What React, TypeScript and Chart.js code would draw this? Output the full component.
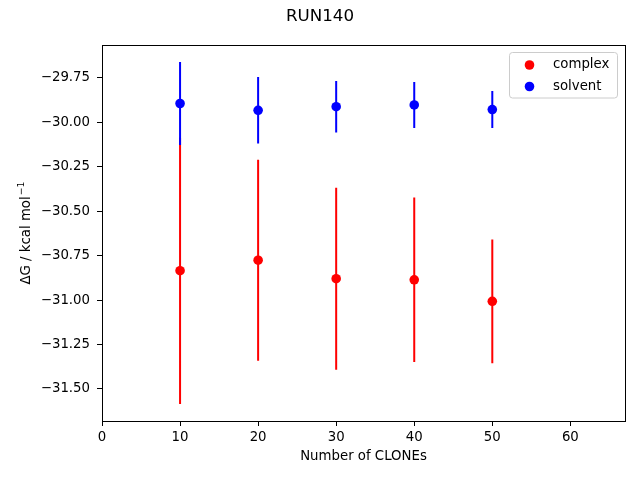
import React, { useEffect, useRef } from 'react';
import { Chart, registerables } from 'chart.js';

Chart.register(...registerables);

const chartTitle = 'RUN140';
const xLabel = 'Number of CLONEs';
const yLabelMain = 'ΔG / kcal mol';
const yLabelSup = '\u22121';
const seriesNames = ['complex', 'solvent'];
const seriesColors = ['#ff0000', '#0000ff'];

const clones = [10, 20, 30, 40, 50];
const complexMean = [-30.835, -30.776, -30.88, -30.886, -31.007];
const complexErr = [0.749, 0.565, 0.512, 0.462, 0.348];
const solventMean = [-29.895, -29.933, -29.913, -29.903, -29.929];
const solventErr = [0.233, 0.187, 0.145, 0.129, 0.104];

const xTicks = [0, 10, 20, 30, 40, 50, 60];
const yTicks = [-29.75, -30.0, -30.25, -30.5, -30.75, -31.0, -31.25, -31.5];

const FONT = "'DejaVu Sans', sans-serif";

function points(means: number[]) {
  return clones.map((x, i) => ({ x, y: means[i] }));
}

function errSegments(means: number[], errs: number[]) {
  const out: { x: number; y: number | null }[] = [];
  clones.forEach((x, i) => {
    out.push({ x, y: means[i] - errs[i] }, { x, y: means[i] + errs[i] }, { x, y: null });
  });
  return out;
}

const decor = {
  id: 'decor',
  afterDraw(chart: any) {
    const { ctx, chartArea: a } = chart;
    ctx.save();
    // frame
    ctx.strokeStyle = '#000';
    ctx.lineWidth = 1;
    ctx.strokeRect(Math.round(a.left) + 0.5, Math.round(a.top) + 0.5, Math.round(a.right - a.left), Math.round(a.bottom - a.top));
    // title
    ctx.fillStyle = '#000';
    ctx.textAlign = 'center';
    ctx.textBaseline = 'middle';
    ctx.font = `16.7px ${FONT}`;
    ctx.fillText(chartTitle, 320, 17);
    // axis labels
    ctx.font = `13.3px ${FONT}`;
    ctx.fillText(xLabel, (a.left + a.right) / 2, 457);
    ctx.save();
    ctx.translate(25, (a.top + a.bottom) / 2);
    ctx.rotate(-Math.PI / 2);
    ctx.font = `13.3px ${FONT}`;
    const wMain = ctx.measureText(yLabelMain).width;
    ctx.font = `9.4px ${FONT}`;
    const wSup = ctx.measureText(yLabelSup).width;
    const start = -(wMain + wSup + 1) / 2;
    ctx.textAlign = 'left';
    ctx.textBaseline = 'alphabetic';
    ctx.font = `13.3px ${FONT}`;
    ctx.fillText(yLabelMain, start, 5);
    ctx.font = `9.4px ${FONT}`;
    ctx.fillText(yLabelSup, start + wMain + 1, -1);
    ctx.restore();
    // legend
    const lx = 509.5, ly = 52.5, lw = 108, lh = 45.5, r = 3;
    ctx.beginPath();
    ctx.moveTo(lx + r, ly);
    ctx.lineTo(lx + lw - r, ly);
    ctx.quadraticCurveTo(lx + lw, ly, lx + lw, ly + r);
    ctx.lineTo(lx + lw, ly + lh - r);
    ctx.quadraticCurveTo(lx + lw, ly + lh, lx + lw - r, ly + lh);
    ctx.lineTo(lx + r, ly + lh);
    ctx.quadraticCurveTo(lx, ly + lh, lx, ly + lh - r);
    ctx.lineTo(lx, ly + r);
    ctx.quadraticCurveTo(lx, ly, lx + r, ly);
    ctx.closePath();
    ctx.fillStyle = 'rgba(255,255,255,0.8)';
    ctx.fill();
    ctx.strokeStyle = '#cccccc';
    ctx.lineWidth = 1;
    ctx.stroke();
    seriesNames.forEach((name, i) => {
      const cy = 65 + i * 21.5;
      ctx.beginPath();
      ctx.arc(529.5, cy, 4.8, 0, Math.PI * 2);
      ctx.fillStyle = seriesColors[i];
      ctx.fill();
      ctx.fillStyle = '#000';
      ctx.textAlign = 'left';
      ctx.textBaseline = 'middle';
      ctx.font = `13.3px ${FONT}`;
      ctx.fillText(name, 553, cy);
    });
    ctx.restore();
  },
};

function fmtY(v: number) {
  const s = Math.abs(v).toFixed(2);
  return (v < 0 ? '\u2212' : '') + s;
}

export default function App() {
  const ref = useRef<HTMLCanvasElement | null>(null);
  useEffect(() => {
    document.body.style.margin = '0';
    const canvas = ref.current;
    if (!canvas) return;
    const chart = new Chart(canvas, {
      type: 'scatter',
      data: {
        datasets: [
          {
            label: seriesNames[0] + ' error',
            data: errSegments(complexMean, complexErr),
            showLine: true,
            spanGaps: false,
            borderColor: seriesColors[0],
            borderWidth: 2,
            pointRadius: 0,
            order: 4,
          } as any,
          {
            label: seriesNames[0],
            data: points(complexMean),
            backgroundColor: seriesColors[0],
            borderWidth: 0,
            pointRadius: 4.8,
            order: 3,
          },
          {
            label: seriesNames[1] + ' error',
            data: errSegments(solventMean, solventErr),
            showLine: true,
            spanGaps: false,
            borderColor: seriesColors[1],
            borderWidth: 2,
            pointRadius: 0,
            order: 2,
          } as any,
          {
            label: seriesNames[1],
            data: points(solventMean),
            backgroundColor: seriesColors[1],
            borderWidth: 0,
            pointRadius: 4.8,
            order: 1,
          },
        ],
      },
      options: {
        animation: false,
        responsive: false,
        maintainAspectRatio: false,
        layout: { padding: { left: 0, right: 15, top: 45, bottom: 0 } },
        plugins: {
          legend: { display: false },
          title: { display: false },
          tooltip: { enabled: false },
        },
        scales: {
          x: {
            type: 'linear',
            min: 0,
            max: 67,
            afterBuildTicks: (scale: any) => {
              scale.ticks = xTicks.map((v) => ({ value: v }));
            },
            afterFit: (scale: any) => {
              scale.height = 59;
            },
            grid: {
              drawOnChartArea: false,
              drawTicks: true,
              tickLength: 5,
              tickColor: '#000',
              tickWidth: 1,
            },
            border: { display: false },
            ticks: {
              color: '#000',
              padding: 4,
              maxRotation: 0,
              autoSkip: false,
              font: { family: FONT, size: 13.3 },
              callback: (v: any) => String(v),
            },
          },
          y: {
            type: 'linear',
            min: -31.68,
            max: -29.566,
            afterBuildTicks: (scale: any) => {
              scale.ticks = yTicks.map((v) => ({ value: v }));
            },
            afterFit: (scale: any) => {
              scale.width = 102;
            },
            grid: {
              drawOnChartArea: false,
              drawTicks: true,
              tickLength: 5,
              tickColor: '#000',
              tickWidth: 1,
            },
            border: { display: false },
            ticks: {
              color: '#000',
              padding: 7,
              autoSkip: false,
              font: { family: FONT, size: 13.3 },
              callback: (v: any) => fmtY(Number(v)),
            },
          },
        },
      },
      plugins: [decor],
    });
    return () => chart.destroy();
  }, []);
  return <canvas ref={ref} width={640} height={480} style={{ display: 'block', width: 640, height: 480 }} />;
}
